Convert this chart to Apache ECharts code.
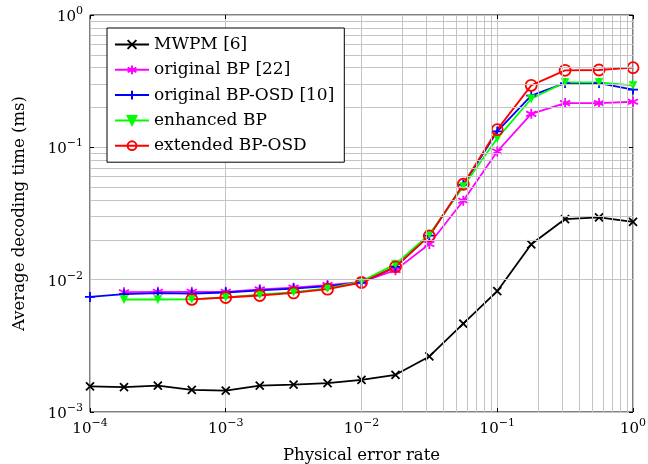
<!DOCTYPE html>
<html>
<head>
<meta charset="utf-8">
<script src="https://cdn.jsdelivr.net/npm/echarts@6/dist/echarts.min.js"></script>
<style>
  html, body { margin: 0; padding: 0; background: #fff; }
  #chart { width: 648px; height: 464px; }
</style>
</head>
<body>
<div id="chart"></div>
<script>
// physical error rate (quarter decades)
const errorRates = [1e-4, 1.78e-4, 3.16e-4, 5.62e-4, 1e-3, 1.78e-3, 3.16e-3, 5.62e-3,
  1e-2, 1.78e-2, 3.16e-2, 5.62e-2, 0.1, 0.178, 0.316, 0.562, 1];

// average decoding time (ms), null = not measured
const mwpm = [1.56e-3, 1.54e-3, 1.58e-3, 1.47e-3, 1.45e-3, 1.58e-3, 1.61e-3, 1.65e-3,
  1.75e-3, 1.91e-3, 2.63e-3, 4.66e-3, 8.18e-3, 1.85e-2, 2.87e-2, 2.96e-2, 2.73e-2];
const originalBP = [null, 8.04e-3, 8.1e-3, 8.1e-3, 8.1e-3, 8.45e-3, 8.7e-3, 9.1e-3,
  9.6e-3, 1.18e-2, 1.86e-2, 3.95e-2, 0.093, 0.179, 0.216, 0.216, 0.221];
const originalOSD = [7.41e-3, 7.77e-3, 7.9e-3, 7.85e-3, 8.0e-3, 8.3e-3, 8.57e-3, 8.93e-3,
  9.5e-3, 1.25e-2, 2.15e-2, 5.2e-2, 0.132, 0.246, 0.306, 0.306, 0.273];
const enhancedBP = [null, 7.08e-3, 7.08e-3, 7.1e-3, 7.35e-3, 7.7e-3, 8.05e-3, 8.6e-3,
  9.7e-3, 1.31e-2, 2.2e-2, 5.05e-2, 0.117, 0.233, 0.31, 0.31, 0.294];
const extendedOSD = [null, null, null, 7.1e-3, 7.33e-3, 7.59e-3, 7.94e-3, 8.48e-3,
  9.52e-3, 1.25e-2, 2.14e-2, 5.26e-2, 0.136, 0.294, 0.382, 0.384, 0.40];

const seriesNames = ['MWPM [6]', 'original BP [22]', 'original BP-OSD [10]', 'enhanced BP', 'extended BP-OSD'];

const FONT = 'DejaVu Serif';
const GRID_COLOR = '#c4c4c4';

// minor grid positions 2..9 x 10^k
const xMinor = [];
for (let k = -4; k < 0; k++) for (let m = 2; m <= 9; m++) xMinor.push(m * Math.pow(10, k));
const yMinor = [];
for (let k = -3; k < 0; k++) for (let m = 2; m <= 9; m++) yMinor.push(m * Math.pow(10, k));

const pairs = ys => errorRates.map((x, i) => [x, ys[i]]).filter(p => p[1] != null);

const powLabel = v => {
  const e = Math.round(Math.log10(v));
  return '{b|10}{s|' + (e < 0 ? '\u2212' + (-e) : e) + '}';
};
const richLabel = {
  b: { fontFamily: FONT, fontSize: 15, color: '#000', lineHeight: 19, verticalAlign: 'bottom' },
  s: { fontFamily: FONT, fontSize: 11, color: '#000', lineHeight: 19, verticalAlign: 'top' }
};

const chart = echarts.init(document.getElementById('chart'));

const LW = 1.8;
const lineSeries = (name, ys, color, symbol, size, extra) => Object.assign({
  name: name,
  type: 'line',
  data: pairs(ys),
  symbol: symbol,
  symbolSize: size,
  lineStyle: { color: color, width: LW },
  itemStyle: { color: color, borderColor: color, borderWidth: LW },
  emphasis: { disabled: true },
  animation: false,
  z: 3
}, extra || {});

chart.setOption({
  animation: false,
  grid: {
    left: 90, right: 15, top: 15, bottom: 52,
    outerBoundsMode: 'none', containLabel: false,
    show: true, borderColor: '#000', borderWidth: 1
  },
  legend: {
    data: seriesNames,
    orient: 'vertical',
    left: 107,
    top: 28,
    zlevel: 1,
    z: 20,
    padding: [8, 10, 8, 7],
    itemWidth: 34,
    itemHeight: 11,
    itemGap: 8.3,
    backgroundColor: '#fff',
    borderColor: '#000',
    borderWidth: 1,
    borderRadius: 0,
    textStyle: { fontFamily: FONT, fontSize: 17, color: '#000' },
    selectedMode: false
  },
  xAxis: [{
    type: 'log', logBase: 10, min: 1e-4, max: 1,
    name: 'Physical error rate', nameLocation: 'middle', nameGap: 35,
    nameTextStyle: { fontFamily: FONT, fontSize: 16.5, color: '#000' },
    axisLine: { show: false },
    axisTick: { show: true, inside: true, length: 4, lineStyle: { color: '#000' } },
    axisLabel: { formatter: powLabel, rich: richLabel, margin: 6 },
    splitLine: { show: true, lineStyle: { color: GRID_COLOR, width: 1 } }
  }, {
    type: 'log', logBase: 10, min: 1e-4, max: 1, position: 'top',
    axisLine: { show: false },
    axisTick: { show: true, inside: true, length: 4, lineStyle: { color: '#000' } },
    axisLabel: { show: false },
    splitLine: { show: false }
  }],
  yAxis: [{
    type: 'log', logBase: 10, min: 1e-3, max: 1,
    name: 'Average decoding time (ms)', nameLocation: 'middle', nameGap: 62,
    nameTextStyle: { fontFamily: FONT, fontSize: 16.5, color: '#000' },
    axisLine: { show: false },
    axisTick: { show: true, inside: true, length: 4, lineStyle: { color: '#000' } },
    axisLabel: { formatter: powLabel, rich: richLabel, margin: 7 },
    splitLine: { show: true, lineStyle: { color: GRID_COLOR, width: 1 } }
  }, {
    type: 'log', logBase: 10, min: 1e-3, max: 1, position: 'right',
    axisLine: { show: false },
    axisTick: { show: true, inside: true, length: 4, lineStyle: { color: '#000' } },
    axisLabel: { show: false },
    splitLine: { show: false }
  }],
  series: [
    {
      name: 'grid', type: 'line', data: [], z: 1, silent: true,
      markLine: {
        silent: true, symbol: ['none', 'none'], animation: false,
        label: { show: false },
        lineStyle: { color: GRID_COLOR, width: 1, type: 'solid' },
        emphasis: { disabled: true },
        data: xMinor.map(v => ({ xAxis: v })).concat(yMinor.map(v => ({ yAxis: v })))
      }
    },
    lineSeries(seriesNames[0], mwpm, '#000000', 'path://M0,0L10,10M10,0L0,10', 8),
    lineSeries(seriesNames[1], originalBP, '#ff00ff',
      'path://M5,0L5,10M0.67,2.5L9.33,7.5M0.67,7.5L9.33,2.5', 10),
    lineSeries(seriesNames[2], originalOSD, '#0000ff', 'path://M5,0L5,10M0,5L10,5', 10),
    lineSeries(seriesNames[3], enhancedBP, '#00ff00', 'triangle', 8,
      { symbolRotate: 180, itemStyle: { color: '#00ff00', borderColor: '#00ff00', borderWidth: 0.5 } }),
    lineSeries(seriesNames[4], extendedOSD, '#ff0000',
      'path://M10,5A5,5,0,1,1,0,5A5,5,0,1,1,10,5Z', 11,
      { itemStyle: { color: 'rgba(0,0,0,0)', borderColor: '#ff0000', borderWidth: LW } })
  ]
});
</script>
</body>
</html>
